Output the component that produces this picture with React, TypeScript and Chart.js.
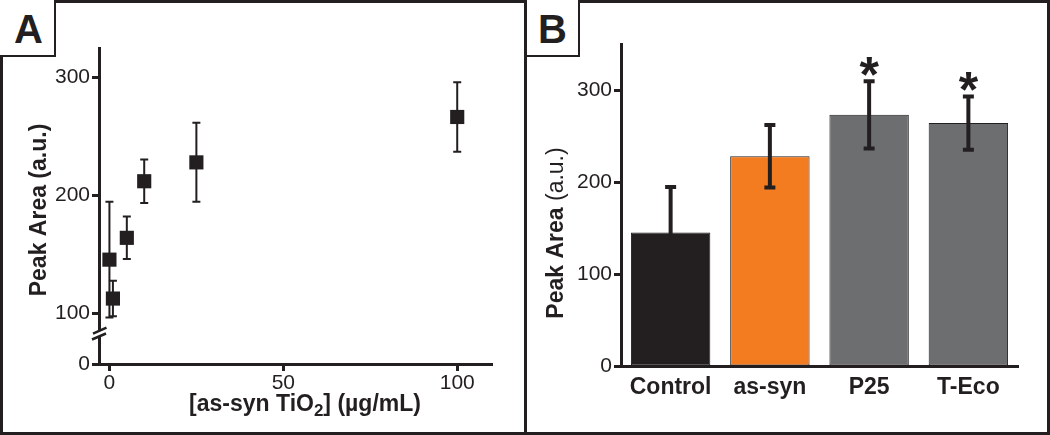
import React, { useEffect, useRef } from 'react';
import { Chart, registerables } from 'chart.js';

Chart.register(...registerables);

const FONT = '"Liberation Sans", Arial, Helvetica, sans-serif';
const INK = '#231f20';

// Panel A: peak area vs as-syn TiO2 concentration
const doseX = [0, 1, 5, 10, 25, 100];
const doseArea = [145.5, 112.5, 164, 212, 228, 266.5];
const doseErr = [49, 15, 18, 18.5, 33.5, 29.5];
const doseXTicks = [0, 50, 100];
const doseYTicks = [100, 200, 300];
const doseYFloor = 57; // value shown as "0" below the axis break
const doseBreakAt = 82;

// Panel B: peak area by group
const groups = ['Control', 'as-syn', 'P25', 'T-Eco'];
const groupArea = [145, 228, 273, 264];
const groupErr = [49.5, 34, 36.5, 29];
const groupSig = ['', '', '*', '*'];
const groupColors = ['#231f20', '#f47c20', '#6d6e70', '#6d6e70'];
const groupYTicks = [0, 100, 200, 300];

function errorBars(vals: number[], errs: number[], width: number, capHalf: number, hook: string) {
  return {
    id: 'errbars',
    [hook](chart: any) {
      const meta = chart.getDatasetMeta(0);
      const ys = chart.scales.y;
      const ctx = chart.ctx;
      ctx.save();
      ctx.strokeStyle = INK;
      ctx.lineWidth = width;
      ctx.lineCap = 'butt';
      meta.data.forEach((el: any, i: number) => {
        const x = el.x;
        const top = ys.getPixelForValue(vals[i] + errs[i]);
        const bot = ys.getPixelForValue(vals[i] - errs[i]);
        ctx.beginPath();
        ctx.moveTo(x, top);
        ctx.lineTo(x, bot);
        ctx.moveTo(x - capHalf, top);
        ctx.lineTo(x + capHalf, top);
        ctx.moveTo(x - capHalf, bot);
        ctx.lineTo(x + capHalf, bot);
        ctx.stroke();
      });
      ctx.restore();
    },
  };
}

const decorA = {
  id: 'decorA',
  afterDraw(chart: any) {
    const { ctx, chartArea: ca } = chart;
    const ys = chart.scales.y;
    // axis break
    const x0 = ca.left;
    const yc = ys.getPixelForValue(doseBreakAt);
    ctx.save();
    ctx.fillStyle = '#ffffff';
    ctx.fillRect(x0 - 3, yc - 3.5, 6, 5.5);
    ctx.strokeStyle = INK;
    ctx.lineWidth = 2.5;
    ctx.beginPath();
    ctx.moveTo(x0 - 6, yc - 1);
    ctx.lineTo(x0 + 7.5, yc - 7);
    ctx.moveTo(x0 - 7, yc + 5);
    ctx.lineTo(x0 + 7, yc - 1);
    ctx.stroke();
    ctx.restore();

    // y title
    ctx.save();
    ctx.fillStyle = INK;
    ctx.translate(ca.left - 59, (ca.top + ca.bottom) / 2 + 4);
    ctx.rotate(-Math.PI / 2);
    ctx.font = `bold 23px ${FONT}`;
    ctx.textAlign = 'center';
    ctx.textBaseline = 'middle';
    ctx.fillText('Peak Area (a.u.)', 0, 0);
    ctx.restore();

    // x title with subscript
    ctx.save();
    ctx.fillStyle = INK;
    ctx.textBaseline = 'middle';
    ctx.textAlign = 'left';
    const main = `bold 23px ${FONT}`;
    const sub = `bold 17px ${FONT}`;
    const parts: [string, string, number][] = [
      ['[as-syn TiO', main, 0],
      ['2', sub, 6],
      ['] (µg/mL)', main, 0],
    ];
    let total = 0;
    parts.forEach(([t, f]) => {
      ctx.font = f;
      total += ctx.measureText(t).width;
    });
    let x = ca.left + 206 - total / 2;
    const y = ca.bottom + 41;
    parts.forEach(([t, f, dy]) => {
      ctx.font = f;
      ctx.fillText(t, x, y + dy);
      x += ctx.measureText(t).width;
    });
    ctx.restore();
  },
};

const decorB = {
  id: 'decorB',
  afterDraw(chart: any) {
    const { ctx, chartArea: ca } = chart;
    const ys = chart.scales.y;
    const meta = chart.getDatasetMeta(0);
    // significance stars
    ctx.save();
    ctx.fillStyle = INK;
    ctx.font = `bold 50px ${FONT}`;
    ctx.textAlign = 'center';
    ctx.textBaseline = 'alphabetic';
    meta.data.forEach((el: any, i: number) => {
      const s = groupSig[i];
      if (!s) return;
      const m = ctx.measureText(s);
      const yc = ys.getPixelForValue(groupArea[i] + groupErr[i]) - 15;
      const base = yc - (m.actualBoundingBoxDescent - m.actualBoundingBoxAscent) / 2;
      ctx.fillText(s, el.x, base);
    });
    ctx.restore();

    // y title: bold "Peak Area" + regular "(a.u.)"
    ctx.save();
    ctx.fillStyle = INK;
    ctx.translate(ca.left - 64, (ca.top + ca.bottom) / 2 + 28);
    ctx.rotate(-Math.PI / 2);
    ctx.textBaseline = 'middle';
    ctx.textAlign = 'left';
    const parts: [string, string][] = [
      ['Peak Area ', `bold 23px ${FONT}`],
      ['(a.u.)', `23px ${FONT}`],
    ];
    let total = 0;
    parts.forEach(([t, f]) => {
      ctx.font = f;
      total += ctx.measureText(t).width;
    });
    let x = -total / 2;
    parts.forEach(([t, f]) => {
      ctx.font = f;
      ctx.fillText(t, x, 0);
      x += ctx.measureText(t).width;
    });
    ctx.restore();
  },
};

export default function App() {
  const aRef = useRef<HTMLCanvasElement>(null);
  const bRef = useRef<HTMLCanvasElement>(null);

  useEffect(() => {
    document.body.style.margin = '0';
    const tickFont = { family: FONT, size: 21 };

    const a = new Chart(aRef.current as HTMLCanvasElement, {
      type: 'scatter',
      data: {
        datasets: [
          {
            data: doseX.map((x, i) => ({ x, y: doseArea[i] })),
            pointStyle: 'rect',
            pointRadius: 10,
            pointBorderWidth: 0,
            backgroundColor: INK,
            borderColor: INK,
          },
        ],
      },
      options: {
        responsive: false,
        animation: false,
        devicePixelRatio: 1,
        layout: { padding: { top: 48, right: 32, left: 0, bottom: 0 } },
        plugins: { legend: { display: false }, tooltip: { enabled: false } },
        scales: {
          x: {
            type: 'linear',
            min: -3,
            max: 110,
            afterBuildTicks: (s: any) => {
              s.ticks = doseXTicks.map((value) => ({ value }));
            },
            afterFit: (s: any) => {
              s.height = 71;
            },
            grid: { drawOnChartArea: false, drawTicks: true, tickLength: 7, tickWidth: 3, tickColor: INK },
            border: { display: true, color: INK, width: 3 },
            ticks: { font: tickFont, color: INK, padding: 0, maxRotation: 0 },
          },
          y: {
            type: 'linear',
            min: doseYFloor,
            max: 325,
            afterBuildTicks: (s: any) => {
              s.ticks = [doseYFloor, ...doseYTicks].map((value) => ({ value }));
            },
            afterFit: (s: any) => {
              s.width = 99;
            },
            grid: { drawOnChartArea: false, drawTicks: true, tickLength: 7, tickWidth: 3, tickColor: INK },
            border: { display: true, color: INK, width: 3 },
            ticks: {
              font: tickFont,
              color: INK,
              padding: 2,
              callback: (v: any) => (v === doseYFloor ? '0' : String(v)),
            },
          },
        },
      },
      plugins: [errorBars(doseArea, doseErr, 2, 4, 'beforeDatasetsDraw'), decorA],
    } as any);

    const b = new Chart(bRef.current as HTMLCanvasElement, {
      type: 'bar',
      data: {
        labels: groups,
        datasets: [
          {
            data: groupArea,
            backgroundColor: groupColors,
            borderColor: INK,
            borderWidth: 1,
            borderSkipped: false,
            barPercentage: 0.8,
            categoryPercentage: 1,
          },
        ],
      },
      options: {
        responsive: false,
        animation: false,
        devicePixelRatio: 1,
        layout: { padding: { top: 44, right: 32, left: 0, bottom: 0 } },
        plugins: { legend: { display: false }, tooltip: { enabled: false } },
        scales: {
          x: {
            type: 'category',
            afterFit: (s: any) => {
              s.height = 69;
            },
            grid: { display: false, drawTicks: false },
            border: { display: true, color: INK, width: 3 },
            ticks: { font: { family: FONT, size: 23, weight: 'bold' }, color: INK, padding: 8, maxRotation: 0 },
          },
          y: {
            type: 'linear',
            min: 0,
            max: 350,
            afterBuildTicks: (s: any) => {
              s.ticks = groupYTicks.map((value) => ({ value }));
            },
            afterFit: (s: any) => {
              s.width = 94;
            },
            grid: { drawOnChartArea: false, drawTicks: true, tickLength: 7, tickWidth: 3, tickColor: INK },
            border: { display: true, color: INK, width: 3 },
            ticks: { font: tickFont, color: INK, padding: 2 },
          },
        },
      },
      plugins: [errorBars(groupArea, groupErr, 4, 5.5, 'afterDatasetsDraw'), decorB],
    } as any);

    return () => {
      a.destroy();
      b.destroy();
    };
  }, []);

  const labelBox: React.CSSProperties = {
    position: 'absolute',
    top: 0,
    height: 57,
    boxSizing: 'border-box',
    borderRight: `2px solid ${INK}`,
    borderBottom: `2px solid ${INK}`,
    paddingTop: 3,
    display: 'flex',
    alignItems: 'center',
    justifyContent: 'center',
    fontFamily: FONT,
    fontWeight: 700,
    fontSize: 40,
    color: INK,
    background: '#fff',
  };

  return (
    <div style={{ position: 'relative', width: 1050, height: 435, background: '#fff', overflow: 'hidden' }}>
      <canvas ref={aRef} width={524} height={435} style={{ position: 'absolute', left: 0, top: 0 }} />
      <canvas ref={bRef} width={523} height={435} style={{ position: 'absolute', left: 527, top: 0 }} />
      <div
        style={{
          position: 'absolute',
          inset: 0,
          border: `3px solid ${INK}`,
          boxSizing: 'border-box',
          pointerEvents: 'none',
        }}
      />
      <div style={{ position: 'absolute', left: 524, top: 0, width: 3, height: 435, background: INK }} />
      <div style={{ ...labelBox, left: 0, width: 56, paddingLeft: 3 }}>A</div>
      <div style={{ ...labelBox, left: 527, width: 53 }}>B</div>
    </div>
  );
}
